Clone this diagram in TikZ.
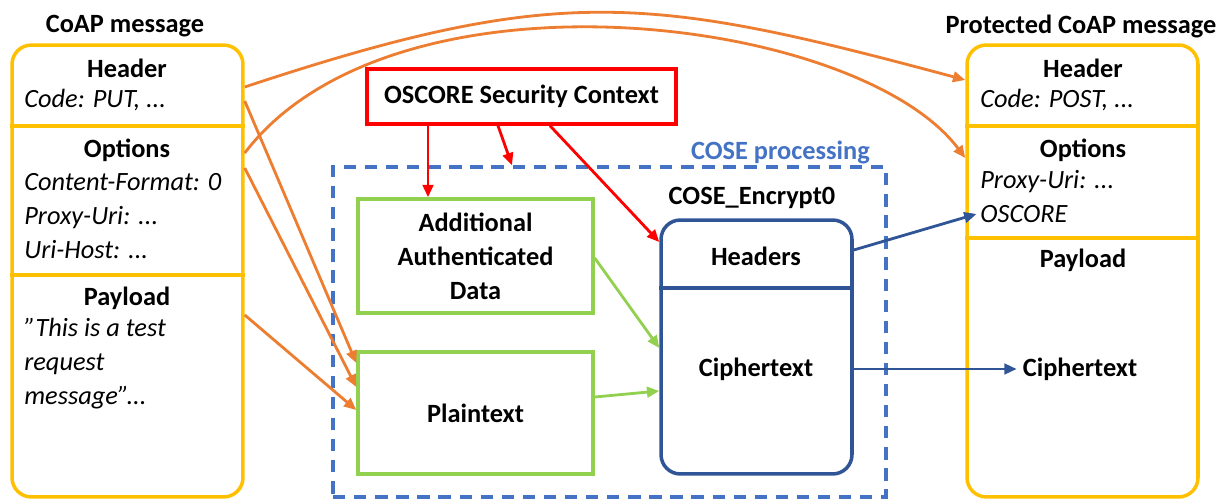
\documentclass[tikz,border=0pt]{standalone}
\usepackage{fontspec}
\setmainfont{Carlito}
\usetikzlibrary{arrows.meta}
\definecolor{coapyellow}{HTML}{FFC000}
\definecolor{coaporange}{HTML}{ED7D31}
\definecolor{aadgreen}{HTML}{92D050}
\definecolor{encblue}{HTML}{2F5597}
\definecolor{coseblue}{HTML}{4472C4}
\definecolor{ctxred}{HTML}{FF0000}
\newcommand{\fsz}{\fontsize{15}{19.3}\selectfont}
\tikzset{
  msg/.style={draw=coapyellow, line width=2pt, rounded corners=11pt, minimum width=4.62cm, minimum height=9.04cm},
  part/.style={draw=coapyellow, line width=2pt},
  ttl/.style={font=\fsz\bfseries},
  itm/.style={font=\fsz\itshape, anchor=west, align=left, inner sep=0pt},
  inbox/.style={draw=aadgreen, line width=2pt, align=center, font=\fsz\bfseries},
  arr/.style={line width=1.6pt, -{Triangle[length=7pt,width=6pt]}},
}
\begin{document}
\begin{tikzpicture}[x=0.02cm, y=-0.02cm]
\useasboundingbox (0,0) rectangle (1222,499);
% plain message
\node[ttl] (ttlL) at (125,26) {CoAP message};
\node[msg] (coap) at (127.5,271) {};
\draw[part] (coap.west |- 0,126) -- (coap.east |- 0,126);
\draw[part] (coap.west |- 0,275) -- (coap.east |- 0,275);
\node[ttl] (hdrL) at (127,68) {Header};
\node[itm] (codeL) at (24,100) {Code: PUT, ...};
\node[ttl] (optL) at (127,150) {Options};
\node[itm] (optsL) at (24,216) {Content-Format: 0\\Proxy-Uri: ...\\Uri-Host: ...};
\node[ttl] (payL) at (127,298) {Payload};
\node[itm] (txtL) at (24,364) {”This is a test\\request\\message”...};
% protected message
\node[ttl] (ttlR) at (1081,26) {Protected CoAP message};
\node[msg] (pcoap) at (1082.5,271) {};
\draw[part] (pcoap.west |- 0,126) -- (pcoap.east |- 0,126);
\draw[part] (pcoap.west |- 0,238) -- (pcoap.east |- 0,238);
\node[ttl] (hdrR) at (1083,68) {Header};
\node[itm] (codeR) at (980,100) {Code: POST, ...};
\node[ttl] (optR) at (1083,150) {Options};
\node[itm] (proxyR) at (980,182) {Proxy-Uri: ...};
\node[itm] (oscR) at (980,214) {OSCORE};
\node[ttl] (payR) at (1083,260) {Payload};
\node[ttl] (ctR) at (1080,369) {Ciphertext};
% security context and COSE
\node[ttl, draw=ctxred, line width=2pt, minimum width=6.18cm, minimum height=1.1cm] (ctx) at (521.5,96.5) {OSCORE Security Context};
\node[draw=coseblue, line width=2pt, dash pattern=on 7pt off 5pt, minimum width=11.06cm, minimum height=6.6cm] (cose) at (609.5,332) {};
\node[ttl, text=coseblue, anchor=east] (coseL) at (876,152) {COSE processing};
\node[inbox, minimum width=4.7cm, minimum height=2.28cm] (aad) at (475.5,256) {Additional\\Authenticated\\Data};
\node[inbox, minimum width=4.7cm, minimum height=2.44cm] (plain) at (475.5,413) {Plaintext};
\node[ttl] (encL) at (752,198) {COSE\_Encrypt0};
\node[draw=encblue, line width=2pt, rounded corners=11pt, minimum width=3.82cm, minimum height=5.08cm] (enc) at (756.5,347) {};
\draw[draw=encblue, line width=2pt] (enc.west |- 0,288) -- (enc.east |- 0,288);
\node[ttl] (hdrsE) at (756,256) {Headers};
\node[ttl] (ctE) at (756,369) {Ciphertext};
% arrows
\draw[arr, coaporange] (coap.east |- 0,87) .. controls (559,-17) and (649,-5) .. (pcoap.west |- 0,80);
\draw[arr, coaporange] (coap.east |- 0,153) .. controls (393,-42) and (858,15) .. (pcoap.west |- 0,158);
\draw[arr, coaporange] (coap.east |- 0,101) -- (plain.west |- 0,363);
\draw[arr, coaporange] (coap.east |- 0,168) -- (plain.west |- 0,387);
\draw[arr, coaporange] (coap.east |- 0,315) -- (plain.west |- 0,410);
\draw[arr, ctxred] (ctx.south -| 428,0) -- (aad.north -| 428,0);
\draw[arr, ctxred] (ctx.south -| 498,0) -- (cose.north -| 512,0);
\draw[arr, ctxred] (ctx.south -| 550,0) -- (enc.west |- 0,242);
\draw[arr, aadgreen] (aad.east |- 0,258) -- (enc.west |- 0,348);
\draw[arr, aadgreen] (plain.east |- 0,397) -- (enc.west |- 0,391);
\draw[arr, encblue] (enc.east |- 0,250) -- ([xshift=-2pt]oscR.west);
\draw[arr, encblue] (enc.east |- ctE) -- (ctR.west);
\end{tikzpicture}
\end{document}
